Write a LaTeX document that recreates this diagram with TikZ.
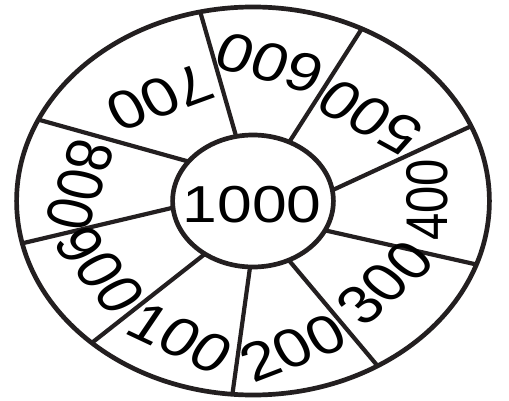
\documentclass[tikz,border=0pt]{standalone}
\usepackage{fontspec}
\setmainfont{Liberation Sans}
\definecolor{ink}{RGB}{35,31,32}

\begin{document}
\begin{tikzpicture}[
    x=0.5pt, y=0.5pt, xscale=1.2, transform shape,
    rim/.style={draw=ink, line width=2.35pt},
    spoke/.style={draw=ink, line width=2.1pt},
    prize/.style={inner sep=0pt, font=\fontsize{27}{30}\selectfont}
]
\useasboundingbox (-210.83,-199) rectangle (213.33,201);

% wheel
\draw[rim] (0,0) ellipse [x radius=197, y radius=194];
\draw[rim] (0,0) ellipse [x radius=67, y radius=66];

\foreach \a/\b in {102.1/102.9, 63.2/62.6, 9.4/22.7, -26.4/-19.1, -63.6/-58.2,
                   -92.1/-95, 233.3/227, 185.8/192.6, 143.3/155.2}
    \draw[spoke] (\a:67 and 66) -- (\b:197 and 194);

% prizes
\node[prize, font=\fontsize{26}{30}\selectfont] (hub) at (-0.8,-4) {1000};
\node[prize, rotate=203.6] (p700) at (-77.5,103) {700};
\node[prize, rotate=161.9] (p600) at (14.2,138) {600};
\node[prize, rotate=146.6] (p500) at (97.5,84) {500};
\node[prize, rotate=90, font=\fontsize{24.5}{28}\selectfont] (p400) at (145,1) {400};
\node[prize, rotate=46.8] (p300) at (110,-82) {300};
\node[prize, rotate=24.7] (p200) at (33.3,-147) {200};
\node[prize, rotate=-29.5] (p100) at (-60.8,-137) {100};
\node[prize, rotate=-56.9] (p900) at (-127.5,-69) {900};
\node[prize, rotate=255] (p800) at (-144,16) {800};
\end{tikzpicture}
\end{document}
